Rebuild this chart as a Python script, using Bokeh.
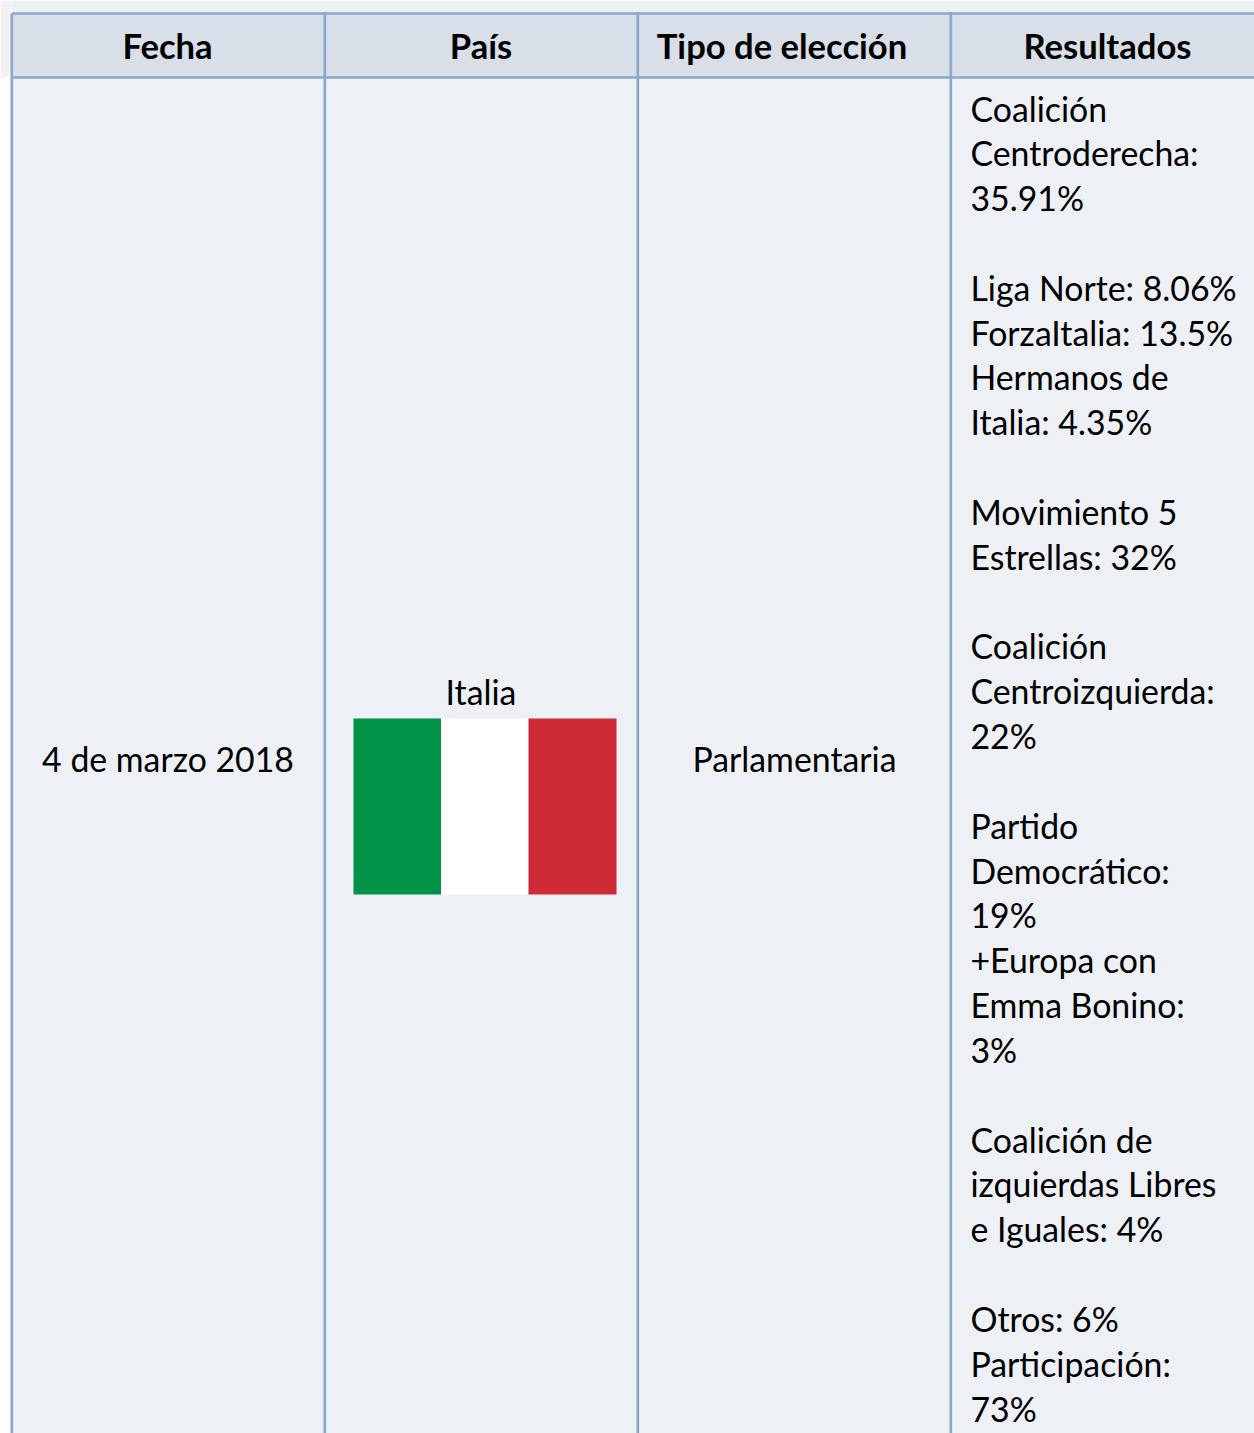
from bokeh.plotting import figure
from bokeh.models import Range1d, ColumnDataSource
from bokeh.core.properties import value
from bokeh.embed import file_html
from bokeh.resources import INLINE

W, H = 1254, 1433
FONT = "Lato"
BODY_PX = "33.8px"
HEAD_PX = "34.6px"

headers = ["Fecha", "País", "Tipo de elección", "Resultados"]
fecha = "4 de marzo 2018"
pais = "Italia"
tipo = "Parlamentaria"
resultados = [
    "Coalición", "Centroderecha:", "35.91%", "",
    "Liga Norte: 8.06%", "ForzaItalia: 13.5%", "Hermanos de", "Italia: 4.35%", "",
    "Movimiento 5", "Estrellas: 32%", "",
    "Coalición", "Centroizquierda:", "22%", "",
    "Partido", "Democrático:", "19%", "+Europa con", "Emma Bonino:", "3%", "",
    "Coalición de", "izquierdas Libres", "e Iguales: 4%", "",
    "Otros: 6%", "Participación:", "73%",
]
flag_colors = ["#009246", "#ffffff", "#ce2b37"]

col_edges = [11.3, 324.3, 637.3, 950.3, 1270]
top, head_bot = 13, 77
BORDER = "#8aa8cc"
HEAD_BG = "#d8dfe9"
CELL_BG = "#edf0f5"
TINT = "#f4f1f5"

p = figure(width=W, height=H, output_backend="svg", toolbar_location=None,
           x_range=Range1d(0, W), y_range=Range1d(H, 0),
           min_border=0, outline_line_color=None, background_fill_color="white",
           border_fill_color="white")
p.xaxis.visible = False
p.yaxis.visible = False
p.grid.visible = False

# faint tint left of the table, then backgrounds
p.patch(x=[0, 11, 11, 0], y=[0, 0, 72, 80], fill_color=TINT, line_color=None)
p.quad(left=[col_edges[0]], right=[W], top=[0], bottom=[top], fill_color=CELL_BG, line_color=None)
for a, b in zip(col_edges[:-1], col_edges[1:]):
    p.quad(left=[a], right=[b], top=[top], bottom=[head_bot], fill_color=HEAD_BG, line_color=None)
    p.quad(left=[a], right=[b], top=[head_bot], bottom=[H + 10], fill_color=CELL_BG, line_color=None)

# borders
p.segment(x0=col_edges[:-1], x1=col_edges[:-1], y0=[top if i == 0 else top - 1.5 for i in range(4)],
          y1=[H + 10] * 4, line_color=BORDER, line_width=2.7)
p.segment(x0=[col_edges[0]] * 2, x1=[W + 10] * 2, y0=[top, head_bot], y1=[top, head_bot],
          line_color=BORDER, line_width=2.7)

# header texts
head_x = [167, 480.5, 781.5, 1107]
p.text(x=head_x, y=[44.5] * 4, text=headers, text_font=value(FONT), text_font_size=HEAD_PX,
       text_font_style="bold", text_align="center", text_baseline="middle", text_color="black")

# body texts
p.text(x=[167.5, 794], y=[758.5, 758.5], text=[fecha, tipo], text_font=value(FONT),
       text_font_size=BODY_PX, text_align="center", text_baseline="middle", text_color="black")
p.text(x=[480.5], y=[691.5], text=[pais], text_font=value(FONT),
       text_font_size=BODY_PX, text_align="center", text_baseline="middle", text_color="black")

# flag
flag_x = [353, 440.5, 528, 616]
p.quad(left=flag_x[:-1], right=flag_x[1:], top=[718] * 3, bottom=[894] * 3,
       fill_color=flag_colors, line_color=None)

# results
LINE0, STEP = 108, 44.83
rows = [(i, t) for i, t in enumerate(resultados) if t]
src = ColumnDataSource(dict(x=[970] * len(rows), y=[LINE0 + i * STEP for i, _ in rows], t=[t for _, t in rows]))
p.text(x="x", y="y", text="t", source=src, text_font=value(FONT), text_font_size=BODY_PX,
       text_align="left", text_baseline="middle", text_color="black")

open("out.html", "w").write(file_html(p, INLINE))
